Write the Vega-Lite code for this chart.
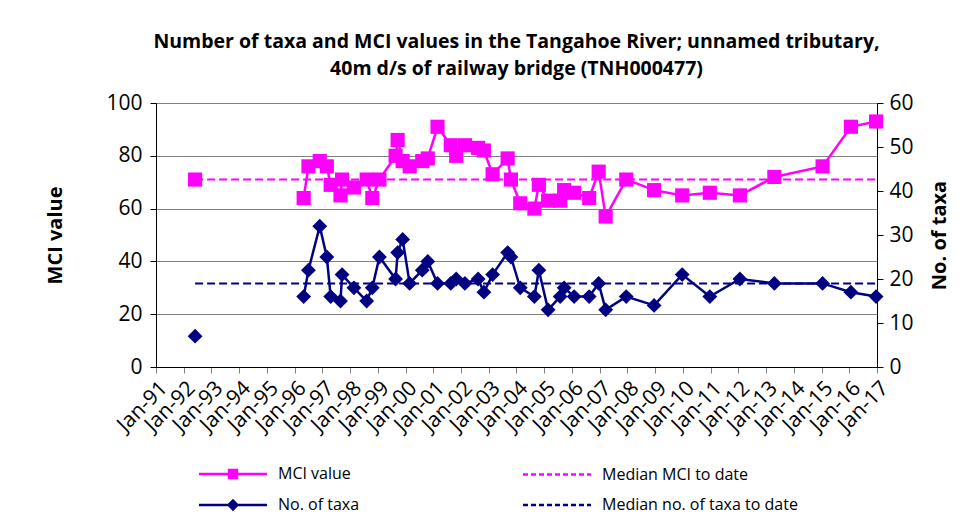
{
  "$schema": "https://vega.github.io/schema/vega-lite/v6.json",
  "width": 721,
  "height": 264,
  "autosize": {"type": "none"},
  "padding": {"left": 156, "top": 103, "right": 97, "bottom": 148},
  "background": "white",
  "config": {"font": "Open Sans", "view": {"stroke": "#808080", "strokeWidth": 1}},
  "title": {
    "text": ["Number of taxa and MCI values in the Tangahoe River; unnamed tributary,", "40m d/s of railway bridge (TNH000477)"],
    "fontSize": 19.5, "fontWeight": "bold", "font": "Open Sans", "color": "black",
    "lineHeight": 27, "anchor": "middle", "frame": "group", "offset": 13
  },
  "data": {"values": [
    {"date": "1992-05-30", "grp": "a", "mci": 71, "taxa": 7, "mciMed": 71, "taxaMed": 19},
    {"date": "1996-04-29", "grp": "b", "mci": 64, "taxa": 16, "mciMed": 71, "taxaMed": 19},
    {"date": "1996-07-01", "grp": "b", "mci": 76, "taxa": 22, "mciMed": 71, "taxaMed": 19},
    {"date": "1996-11-27", "grp": "b", "mci": 78, "taxa": 32, "mciMed": 71, "taxaMed": 19},
    {"date": "1997-02-28", "grp": "b", "mci": 76, "taxa": 25, "mciMed": 71, "taxaMed": 19},
    {"date": "1997-04-20", "grp": "b", "mci": 69, "taxa": 16, "mciMed": 71, "taxaMed": 19},
    {"date": "1997-08-27", "grp": "b", "mci": 65, "taxa": 15, "mciMed": 71, "taxaMed": 19},
    {"date": "1997-09-17", "grp": "b", "mci": 71, "taxa": 21, "mciMed": 71, "taxaMed": 19},
    {"date": "1998-02-20", "grp": "b", "mci": 68, "taxa": 18, "mciMed": 71, "taxaMed": 19},
    {"date": "1998-08-07", "grp": "b", "mci": 71, "taxa": 15, "mciMed": 71, "taxaMed": 19},
    {"date": "1998-10-20", "grp": "b", "mci": 64, "taxa": 18, "mciMed": 71, "taxaMed": 19},
    {"date": "1999-01-22", "grp": "b", "mci": 71, "taxa": 25, "mciMed": 71, "taxaMed": 19},
    {"date": "1999-08-23", "grp": "b", "mci": 80, "taxa": 20, "mciMed": 71, "taxaMed": 19},
    {"date": "1999-09-19", "grp": "b", "mci": 86, "taxa": 26, "mciMed": 71, "taxaMed": 19},
    {"date": "1999-11-24", "grp": "b", "mci": 78, "taxa": 29, "mciMed": 71, "taxaMed": 19},
    {"date": "2000-02-24", "grp": "b", "mci": 76, "taxa": 19, "mciMed": 71, "taxaMed": 19},
    {"date": "2000-08-08", "grp": "b", "mci": 78, "taxa": 22, "mciMed": 71, "taxaMed": 19},
    {"date": "2000-10-20", "grp": "b", "mci": 79, "taxa": 24, "mciMed": 71, "taxaMed": 19},
    {"date": "2001-02-25", "grp": "b", "mci": 91, "taxa": 19, "mciMed": 71, "taxaMed": 19},
    {"date": "2001-08-19", "grp": "b", "mci": 84, "taxa": 19, "mciMed": 71, "taxaMed": 19},
    {"date": "2001-10-29", "grp": "b", "mci": 80, "taxa": 20, "mciMed": 71, "taxaMed": 19},
    {"date": "2002-02-21", "grp": "b", "mci": 84, "taxa": 19, "mciMed": 71, "taxaMed": 19},
    {"date": "2002-08-14", "grp": "b", "mci": 83, "taxa": 20, "mciMed": 71, "taxaMed": 19},
    {"date": "2002-10-29", "grp": "b", "mci": 82, "taxa": 17, "mciMed": 71, "taxaMed": 19},
    {"date": "2003-02-21", "grp": "b", "mci": 73, "taxa": 21, "mciMed": 71, "taxaMed": 19},
    {"date": "2003-09-07", "grp": "b", "mci": 79, "taxa": 26, "mciMed": 71, "taxaMed": 19},
    {"date": "2003-10-20", "grp": "b", "mci": 71, "taxa": 25, "mciMed": 71, "taxaMed": 19},
    {"date": "2004-02-20", "grp": "b", "mci": 62, "taxa": 18, "mciMed": 71, "taxaMed": 19},
    {"date": "2004-08-24", "grp": "b", "mci": 60, "taxa": 16, "mciMed": 71, "taxaMed": 19},
    {"date": "2004-10-22", "grp": "b", "mci": 69, "taxa": 22, "mciMed": 71, "taxaMed": 19},
    {"date": "2005-02-21", "grp": "b", "mci": 63, "taxa": 13, "mciMed": 71, "taxaMed": 19},
    {"date": "2005-07-30", "grp": "b", "mci": 63, "taxa": 16, "mciMed": 71, "taxaMed": 19},
    {"date": "2005-09-20", "grp": "b", "mci": 67, "taxa": 18, "mciMed": 71, "taxaMed": 19},
    {"date": "2006-01-30", "grp": "b", "mci": 66, "taxa": 16, "mciMed": 71, "taxaMed": 19},
    {"date": "2006-08-16", "grp": "b", "mci": 64, "taxa": 16, "mciMed": 71, "taxaMed": 19},
    {"date": "2006-12-19", "grp": "b", "mci": 74, "taxa": 19, "mciMed": 71, "taxaMed": 19},
    {"date": "2007-03-21", "grp": "b", "mci": 57, "taxa": 13, "mciMed": 71, "taxaMed": 19},
    {"date": "2007-12-17", "grp": "b", "mci": 71, "taxa": 16, "mciMed": 71, "taxaMed": 19},
    {"date": "2008-12-18", "grp": "b", "mci": 67, "taxa": 14, "mciMed": 71, "taxaMed": 19},
    {"date": "2009-12-23", "grp": "b", "mci": 65, "taxa": 21, "mciMed": 71, "taxaMed": 19},
    {"date": "2010-12-22", "grp": "b", "mci": 66, "taxa": 16, "mciMed": 71, "taxaMed": 19},
    {"date": "2012-01-22", "grp": "b", "mci": 65, "taxa": 20, "mciMed": 71, "taxaMed": 19},
    {"date": "2013-04-20", "grp": "b", "mci": 72, "taxa": 19, "mciMed": 71, "taxaMed": 19},
    {"date": "2015-01-15", "grp": "b", "mci": 76, "taxa": 19, "mciMed": 71, "taxaMed": 19},
    {"date": "2016-01-23", "grp": "b", "mci": 91, "taxa": 17, "mciMed": 71, "taxaMed": 19},
    {"date": "2016-12-20", "grp": "b", "mci": 93, "taxa": 16, "mciMed": 71, "taxaMed": 19}
  ]},
  "encoding": {
    "x": {
      "field": "date", "type": "temporal", "title": null,
      "scale": {"type": "utc", "domain": [{"year": 1991, "month": 1, "date": 1, "utc": true}, {"year": 2017, "month": 1, "date": 1, "utc": true}]},
      "axis": {
        "format": "%b-%y", "tickCount": {"interval": "year", "step": 1}, "labelAngle": -45,
        "labelFontSize": 21, "labelColor": "black", "labelFont": "Open Sans", "labelPadding": 4,
        "grid": false, "domainColor": "black", "tickColor": "#808080", "tickSize": 6, "labelOverlap": false, "labelBound": false, "labelFlush": false
      }
    }
  },
  "layer": [
    {
      "layer": [
        {
          "mark": {"type": "line", "strokeWidth": 2.5, "point": {"shape": "square", "size": 200, "filled": true, "opacity": 1}},
          "encoding": {
            "detail": {"field": "grp"},
            "y": {
              "field": "mci", "type": "quantitative", "scale": {"domain": [0, 100], "nice": false},
              "axis": {
                "values": [0, 20, 40, 60, 80, 100], "title": "MCI value", "titleFontSize": 20, "titleFontWeight": "bold",
                "titleColor": "black", "titleFont": "Open Sans", "titlePadding": 40,
                "labelFontSize": 21, "labelColor": "black", "labelFont": "Open Sans", "labelPadding": 8,
                "grid": true, "gridColor": "#808080", "domainColor": "black", "tickColor": "black", "tickSize": 6
              }
            },
            "color": {
              "datum": "MCI value",
              "scale": {"domain": ["MCI value", "No. of taxa", "Median MCI to date", "Median no. of taxa to date"], "range": ["#FF00FF", "#000080", "#FF00FF", "#000080"]},
              "legend": {
                "orient": "none", "legendX": 69, "legendY": 363, "columns": 2, "columnPadding": 158, "rowPadding": 12,
                "title": null, "padding": 0, "symbolSize": 64, "symbolStrokeWidth": 2.5, "labelFontSize": 16, "labelFont": "Open Sans",
                "labelColor": "black", "labelOffset": 37, "labelLimit": 400,
                "encode": {"symbols": {"update": {
                  "shape": {"signal": "datum.value === 'MCI value' ? 'M-8.5,0L8.5,0M-1,-1L1,-1L1,1L-1,1Z' : datum.value === 'No. of taxa' ? 'M-8.5,0L8.5,0M-1.1,0L0,-1.1L1.1,0L0,1.1Z' : 'M-8.5,0L8.5,0'"},
                  "strokeDash": {"signal": "indexof(datum.value, 'Median') === 0 ? [5,3] : []"},
                  "fill": {"scale": "color", "field": "value"},
                  "stroke": {"scale": "color", "field": "value"},
                  "opacity": {"value": 1}
                }}}
              }
            }
          }
        },
        {
          "mark": {"type": "line", "strokeWidth": 2, "strokeDash": [8, 4]},
          "encoding": {
            "y": {"field": "mciMed", "type": "quantitative"},
            "color": {"datum": "Median MCI to date"}
          }
        }
      ]
    },
    {
      "layer": [
        {
          "mark": {"type": "line", "strokeWidth": 2.5, "point": {"shape": "diamond", "size": 220, "filled": true, "opacity": 1}},
          "encoding": {
            "detail": {"field": "grp"},
            "y": {
              "field": "taxa", "type": "quantitative", "scale": {"domain": [0, 60], "nice": false},
              "axis": {
                "orient": "right", "values": [0, 10, 20, 30, 40, 50, 60], "title": "No. of taxa", "titleFontSize": 20, "titleFontWeight": "bold",
                "titleColor": "black", "titleFont": "Open Sans", "titlePadding": 16, "titleAngle": -90, "titleBaseline": "top",
                "labelFontSize": 21, "labelColor": "black", "labelFont": "Open Sans", "labelPadding": 6,
                "grid": false, "domainColor": "black", "tickColor": "black", "tickSize": 6
              }
            },
            "color": {"datum": "No. of taxa"}
          }
        },
        {
          "mark": {"type": "line", "strokeWidth": 2, "strokeDash": [8, 4]},
          "encoding": {
            "y": {"field": "taxaMed", "type": "quantitative"},
            "color": {"datum": "Median no. of taxa to date"}
          }
        }
      ]
    }
  ],
  "resolve": {"scale": {"y": "independent"}}
}
